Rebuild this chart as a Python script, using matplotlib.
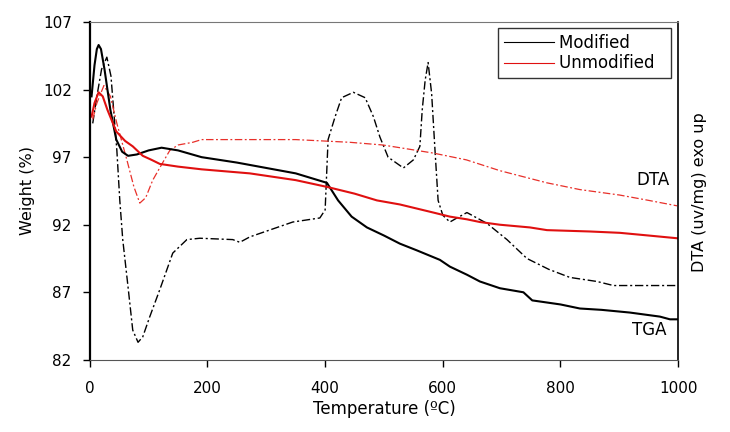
import matplotlib
matplotlib.use("Agg")
from matplotlib import pyplot as plt

plt.rcParams['font.family'] = ['DejaVu Sans']

# TGA - modified (black solid)
t_tga_mod = [3, 8, 12, 15, 19, 25, 35, 45, 55, 65, 80, 100, 122, 150, 190, 250, 300, 350, 403,
             422, 445, 471, 500, 527, 556, 595, 612, 641, 663, 697, 737, 752, 800, 833, 870, 918,
             969, 986, 1000]
w_tga_mod = [101.5, 103.8, 105.0, 105.3, 105.0, 103.5, 100.5, 98.3, 97.4, 97.1, 97.2, 97.5, 97.7,
             97.5, 97.0, 96.6, 96.2, 95.8, 95.1,
             93.8, 92.6, 91.8, 91.2, 90.6, 90.1, 89.4, 88.9, 88.3, 87.8, 87.3, 87.0, 86.4, 86.1,
             85.8, 85.7, 85.5, 85.2, 85.0, 85.0]

# TGA - unmodified (red solid)
t_tga_unm = [3, 8, 15, 22, 30, 45, 60, 73, 90, 105, 119, 150, 190, 272, 350, 403, 450, 488, 527,
             584, 612, 641, 663, 697, 748, 777, 850, 901, 950, 998]
w_tga_unm = [100.0, 101.0, 101.8, 101.5, 100.5, 98.9, 98.2, 97.8, 97.1, 96.8, 96.5, 96.3, 96.1,
             95.8, 95.3, 94.8, 94.3, 93.8, 93.5, 92.9, 92.6, 92.4, 92.2, 92.0, 91.8, 91.6, 91.5,
             91.4, 91.2, 91.0]

# DTA - modified (black dash-dot)
t_dta_mod = [5, 12, 20, 29, 36, 46, 51, 56, 65, 73, 82, 90, 102, 119, 141, 165, 187, 243, 255,
             272, 345, 391, 400, 405, 417, 428, 448, 468, 482, 493, 507, 533, 550, 561, 565, 570,
             575, 581, 587, 592, 600, 612, 624, 641, 675, 709, 743, 780, 816, 862, 890, 940, 1000]
w_dta_mod = [99.5, 101.5, 103.5, 104.4, 103.0, 97.5, 93.8, 90.9, 87.4, 84.2, 83.3, 83.7, 85.2,
             87.2, 89.9, 90.9, 91.0, 90.9, 90.7,
             91.1, 92.2, 92.5, 93.1, 98.3, 100.0, 101.4, 101.8, 101.4, 100.0, 98.5, 97.0, 96.2,
             96.8, 97.8, 100.5, 102.7, 104.0, 101.7, 97.3, 93.8, 92.7, 92.2, 92.5, 92.9, 92.1,
             90.9, 89.5, 88.7, 88.1, 87.8, 87.5, 87.5, 87.5]

# DTA - unmodified (red dash-dot)
t_dta_unm = [5, 12, 24, 35, 46, 63, 75, 85, 95, 107, 124, 136, 150, 175, 190, 272, 350, 442, 498,
             527, 584, 640, 697, 777, 833, 900, 950, 998]
w_dta_unm = [99.8, 101.0, 102.3, 101.5, 99.5, 96.8, 94.8, 93.6, 94.0, 95.3, 96.6, 97.5, 97.9, 98.1,
             98.3, 98.3, 98.3, 98.1, 97.9, 97.7, 97.3, 96.8, 96.0, 95.1, 94.6, 94.2, 93.8, 93.4]

fig = plt.figure(figsize=(7.3, 4.32), dpi=100)
ax = fig.add_axes([0.123, 0.167, 0.806, 0.782])

ax.plot(t_dta_mod, w_dta_mod, color='black', lw=1.0, linestyle=(0, (6, 2, 1.5, 2)))
ax.plot(t_dta_unm, w_dta_unm, color='#e8302a', lw=0.9, linestyle=(0, (6, 2, 1.5, 2)))
ax.plot(t_tga_mod, w_tga_mod, color='black', lw=1.5)
ax.plot(t_tga_unm, w_tga_unm, color='#e01010', lw=1.5)

# legend handles (thin lines as in the original)
h1, = ax.plot([], [], color='black', lw=0.8, label='Modified  ')
h2, = ax.plot([], [], color='#e01010', lw=0.8, label='Unmodified  ')
leg = ax.legend(handles=[h1, h2], loc='upper right', bbox_to_anchor=(0.988, 0.982),
                fontsize=12, frameon=True, fancybox=False, handlelength=3.0,
                handletextpad=0.3, borderpad=0.35, labelspacing=0.15, borderaxespad=0)
leg.get_frame().set_edgecolor('black')
leg.get_frame().set_linewidth(1.0)

ax.set_xlim(0, 1000)
ax.set_ylim(82, 107)
ax.set_xticks([0, 200, 400, 600, 800, 1000])
ax.set_yticks([82, 87, 92, 97, 102, 107])
ax.tick_params(labelsize=11, length=5, width=1)
ax.tick_params(axis='x', pad=10)
ax.tick_params(axis='y', pad=8)

ax.spines['left'].set_linewidth(1.6)
ax.spines['bottom'].set_color('#555555')
ax.spines['top'].set_color('#777777')
ax.spines['right'].set_linewidth(1.2)

ax.set_xlabel('Temperature (\u00baC)', fontsize=12, labelpad=3)
ax.set_ylabel('Weight (%)', fontsize=11.5, labelpad=6)
fig.text(0.958, 0.555, 'DTA (uv/mg) exo up', rotation=90, fontsize=11.5,
         ha='center', va='center')

ax.text(986, 95.3, 'DTA', fontsize=12, ha='right', va='center')
ax.text(981, 84.2, 'TGA', fontsize=12, ha='right', va='center')

fig.savefig('out.png', dpi=100)
